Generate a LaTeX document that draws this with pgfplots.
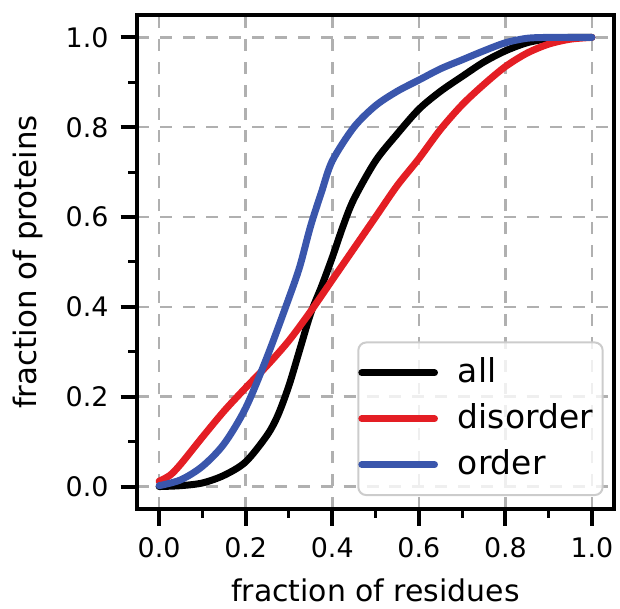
\documentclass[border=0pt]{standalone}
\usepackage{pgfplots}
\pgfplotsset{compat=1.18}
\usetikzlibrary{calc}
\usepackage{fontspec}
\setmainfont{DejaVu Sans}
\definecolor{cred}{RGB}{228,30,36}
\definecolor{cblue}{RGB}{58,86,172}
\definecolor{cgrid}{RGB}{176,176,176}
\definecolor{clegend}{RGB}{204,204,204}
\begin{document}
\begin{tikzpicture}
\begin{axis}[
  scale only axis,
  width=239pt, height=248pt,
  xmin=-0.05, xmax=1.05, ymin=-0.05, ymax=1.05,
  xtick={0,0.2,0.4,0.6,0.8,1.0},
  ytick={0,0.2,0.4,0.6,0.8,1.0},
  minor x tick num=1, minor y tick num=1,
  tick pos=left,
  tick align=outside,
  major tick length=8.5pt,
  minor tick length=4.5pt,
  every major tick/.append style={line width=2pt, black},
  every minor tick/.append style={line width=1.5pt, black},
  axis line style={line width=2pt},
  grid=major,
  major grid style={cgrid, line width=1.25pt, dash pattern=on 6pt off 5.5pt},
  /pgf/number format/assume math mode=true,
  /pgf/number format/.cd, fixed, fixed zerofill, precision=1,
  /pgfplots/.cd,
  ticklabel style={font=\fontsize{13.5}{16}\selectfont},
  yticklabel style={xshift=-2.5pt},
  xticklabel style={yshift=-2.5pt},
  xlabel={fraction of residues},
  ylabel={fraction of proteins},
  xlabel style={font=\fontsize{15}{18}\selectfont, at={(rel axis cs:0.5,0)}, anchor=base, yshift=-46.5pt},
  ylabel style={font=\fontsize{15.5}{18}\selectfont, at={(rel axis cs:0,0.5)}, anchor=base, yshift=50.5pt},
  legend cell align=left,
  legend image code/.code={\draw[line width=3.5pt,#1] (0pt,0pt) -- (36.5pt,0pt);},
  legend style={at={(rel axis cs:1,0)}, anchor=south east, xshift=-5pt, yshift=6.5pt,
    draw=clegend, line width=1pt, rounded corners=4pt, fill=white, fill opacity=0.8, text opacity=1,
    font=\fontsize{16.5}{19}\selectfont, row sep=3.5pt, column sep=5pt, inner xsep=0pt, inner ysep=5.5pt,
    nodes={inner xsep=5pt, inner ysep=2pt, text depth=3pt}},
  every axis plot/.append style={line width=3.5pt, line join=round, line cap=round},
]
\addplot[black, smooth] coordinates {
(0,0) (0.05,0.002) (0.1,0.008) (0.15,0.025) (0.2,0.055) (0.25,0.115) (0.275,0.16)
(0.3,0.225) (0.325,0.305) (0.35,0.385) (0.375,0.445) (0.4,0.51) (0.425,0.58)
(0.45,0.64) (0.5,0.725) (0.55,0.785) (0.6,0.84) (0.65,0.88) (0.7,0.913)
(0.75,0.945) (0.8,0.97) (0.85,0.988) (0.9,0.997) (0.95,1.0) (1.0,1.0)
};
\addlegendentry{all}
\addplot[cred, smooth] coordinates {
(0,0.012) (0.025,0.025) (0.05,0.05) (0.1,0.11) (0.15,0.168) (0.2,0.22)
(0.25,0.27) (0.3,0.325) (0.35,0.39) (0.4,0.46) (0.45,0.53) (0.5,0.60)
(0.55,0.67) (0.6,0.73) (0.65,0.795) (0.7,0.85) (0.75,0.895) (0.8,0.935)
(0.85,0.965) (0.9,0.985) (0.95,0.996) (1.0,1.0)
};
\addlegendentry{disorder}
\addplot[cblue, smooth] coordinates {
(0,0.002) (0.05,0.015) (0.1,0.045) (0.15,0.095) (0.2,0.175) (0.25,0.29)
(0.3,0.42) (0.325,0.49) (0.35,0.58) (0.375,0.655) (0.4,0.725) (0.45,0.80)
(0.5,0.848) (0.55,0.88) (0.6,0.905) (0.65,0.93) (0.7,0.95) (0.75,0.97)
(0.8,0.988) (0.85,0.998) (0.9,1.0) (0.95,1.0) (1.0,1.0)
};
\addlegendentry{order}
\end{axis}
\path (current axis.south west) ++(-69pt,-49pt) rectangle ($(current axis.north east)+(2pt,7.5pt)$);
\end{tikzpicture}
\end{document}
